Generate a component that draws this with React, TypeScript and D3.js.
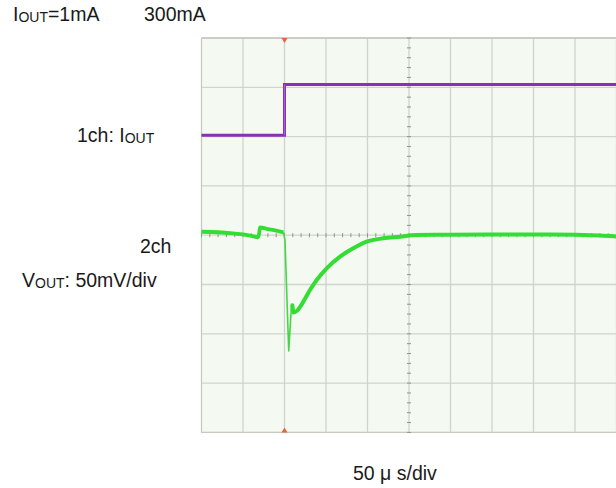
import React from "react";
import * as d3 from "d3";

// ---- data (time in µs relative to load step; ch1 in mA; ch2 in mV deviation) ----
const ch1Time = [-100, 0, 0, 400];
const ch1Current = [1, 1, 300, 300];

const ch2PreTime = [-100, -80, -65, -50, -40, -32, -30.5, -29.5, -20, -10, -1.2];
const ch2PreVolt = [3.5, 3.0, 2.2, 0.8, -0.6, -2.1, 2.0, 7.8, 6.2, 4.6, 2.9];

const ch2SpikeTime = [-1.2, 0.6, 3, 5.1, 6.6, 8.4, 10.8];
const ch2SpikeVolt = [2.9, -4.9, -65.7, -117.4, -96, -71.8, -78.4];

const ch2RecTime = [9.5, 10.8, 14.7, 22.7, 30.7, 38.8, 50.8, 66.9, 82.9, 99, 119, 139, 159, 199, 260, 320, 380, 400];
const ch2RecVolt = [-71, -78.4, -76.9, -67.4, -55.6, -45.4, -33.6, -21.8, -13.3, -6.6, -3.1, -1.5, 0.2, 0.4, 0.7, 0.7, -0.3, -1.3];

const timeDivs = d3.range(-100, 401, 50);
const voltDivs = d3.range(-200, 201, 50);

export default function App() {
  const W = 616, H = 488;
  const left = 201.5, right = 616.5, top = 38, bottom = 432.4;
  const x = d3.scaleLinear().domain([-100, 400]).range([left, right]);
  const y2 = d3.scaleLinear().domain([-200, 200]).range([bottom, top]);
  const y1 = d3.scaleLinear().domain([1, 300]).range([135.3, 84.5]);

  const zip = (a: number[], b: number[]) => a.map((t, i) => [t, b[i]] as [number, number]);

  const line1 = d3.line<[number, number]>().x(d => x(d[0])).y(d => y1(d[1]));
  const line2 = d3.line<[number, number]>().x(d => x(d[0])).y(d => y2(d[1])).curve(d3.curveMonotoneX);
  const line2lin = d3.line<[number, number]>().x(d => x(d[0])).y(d => y2(d[1]));

  const cx = x(150);
  const cy = y2(0);
  const minorT = d3.range(-100, 400.1, 10);
  const minorV = d3.range(-200, 200.1, 10);

  const font = "'Liberation Sans', Arial, sans-serif";
  const fs = 19.5;
  const sub = 14;

  return (
    <svg width={W} height={H} style={{ position: "absolute", left: 0, top: 0, background: "#fff" }}>
      <rect x={left} y={top} width={right - left} height={bottom - top} fill="#f4faf2" />
      {timeDivs.map(t => (
        <line key={"v" + t} x1={x(t)} x2={x(t)} y1={top} y2={bottom} stroke="#cfd4cc" strokeWidth={1.3} />
      ))}
      {voltDivs.map(v => (
        <line key={"h" + v} x1={left} x2={right} y1={y2(v)} y2={y2(v)} stroke="#cfd4cc" strokeWidth={1.3} />
      ))}
      <line x1={left} x2={right} y1={top} y2={top} stroke="#b9bdb6" strokeWidth={1.2} />
      <line x1={left} x2={left} y1={top} y2={bottom} stroke="#c4c8c0" strokeWidth={1} />
      <line x1={left} x2={right} y1={bottom} y2={bottom} stroke="#c4c8c0" strokeWidth={1} />
      {minorT.map(t => (
        <line key={"mt" + t} x1={x(t)} x2={x(t)} y1={cy - 2} y2={cy + 2} stroke="#8f948c" strokeWidth={1} />
      ))}
      {minorV.map(v => (
        <line key={"mv" + v} x1={cx - 2} x2={cx + 2} y1={y2(v)} y2={y2(v)} stroke="#8f948c" strokeWidth={1} />
      ))}
      {/* trigger markers */}
      <path d={`M${x(0) - 3},${top} L${x(0) + 3},${top} L${x(0)},${top + 5} Z`} fill="#e8623a" />
      <path d={`M${x(0) - 3},${bottom} L${x(0) + 3},${bottom} L${x(0)},${bottom - 5} Z`} fill="#e8623a" />

      {/* ch1 */}
      <path d={line1(zip(ch1Time, ch1Current)) || ""} fill="none" stroke="#8a2fb8" strokeWidth={3} />
      <line x1={x(0)} x2={x(0)} y1={y1(1)} y2={y1(300)} stroke="#a35fcc" strokeWidth={1.2} />

      {/* ch2 */}
      <path d={line2lin(zip(ch2SpikeTime, ch2SpikeVolt)) || ""} fill="none" stroke="#45d645" strokeWidth={1.6} strokeLinejoin="round" />
      <path d={line2(zip(ch2PreTime, ch2PreVolt)) || ""} fill="none" stroke="#33dd33" strokeWidth={3.8} strokeLinejoin="round" />
      <path d={line2(zip(ch2RecTime, ch2RecVolt)) || ""} fill="none" stroke="#33dd33" strokeWidth={4} strokeLinejoin="round" strokeLinecap="round" />

      {/* labels */}
      <g fontFamily={font} fontSize={fs} fill="#1a1a1a">
        <text x={13} y={21}>I<tspan fontSize={sub} dy={1}>OUT</tspan><tspan dy={-1}>=1mA</tspan></text>
        <text x={144} y={21}>300mA</text>
        <text x={77} y={141.5}>1ch: I<tspan fontSize={sub} dy={1}>OUT</tspan></text>
        <text x={140} y={252.5}>2ch</text>
        <text x={22} y={286.5}>V<tspan fontSize={sub} dy={1}>OUT</tspan><tspan dy={-1}>: 50mV/div</tspan></text>
        <text x={353} y={480}>50 μ s/div</text>
      </g>
    </svg>
  );
}
